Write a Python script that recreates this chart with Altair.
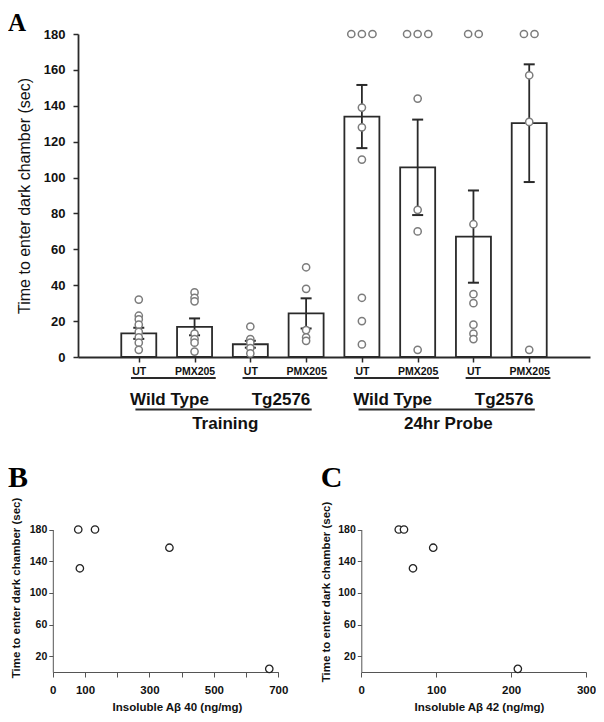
import json
import altair as alt
import pandas as pd

# ---------------- Panel A data ----------------
genotypes = ["Wild Type", "Wild Type", "Tg2576", "Tg2576",
             "Wild Type", "Wild Type", "Tg2576", "Tg2576"]
treatments = ["UT", "PMX205", "UT", "PMX205", "UT", "PMX205", "UT", "PMX205"]
phases = ["Training"] * 4 + ["24hr Probe"] * 4
bar_means = [13.2, 16.8, 7.1, 24.3, 134.0, 105.7, 67.1, 130.3]
bar_sems = [3.1, 4.7, 1.9, 8.4, 17.6, 26.6, 25.7, 32.8]
animal_values = [
    [32, 23, 21, 18, 14, 11, 8, 4],
    [36, 33, 31, 13, 10, 8, 3],
    [17, 10, 8, 5, 2],
    [50, 38, 15, 11, 9],
    [180, 180, 180, 139, 128, 110, 33, 20, 7],
    [180, 180, 180, 144, 82, 70, 4],
    [180, 180, 74, 35, 30, 18, 13, 10],
    [180, 180, 157, 131, 4],
]
CUTOFF = 180

# ---------------- Panels B / C data ----------------
bc_times = [180, 180, 131, 157, 4]
insoluble_ab40 = [79, 131, 84, 362, 672]
insoluble_ab42 = [50, 57, 69, 96, 209]

# ---------------- build tables ----------------
positions = list(range(1, len(bar_means) + 1))
bars_df = pd.DataFrame({
    "pos": positions,
    "mean": bar_means,
    "lo": [m - s for m, s in zip(bar_means, bar_sems)],
    "hi": [m + s for m, s in zip(bar_means, bar_sems)],
})
caps_df = pd.DataFrame({
    "pos": positions * 2,
    "v": list(bars_df["lo"]) + list(bars_df["hi"]),
})

dot_rows = []
for p, vals in zip(positions, animal_values):
    k = sum(1 for v in vals if v == CUTOFF)
    j = 0
    for v in vals:
        off = 0.0
        if v == CUTOFF and k > 1:
            off = (j - (k - 1) / 2) * 0.19
            j += 1
        dot_rows.append({"x": p + off, "v": v})
dots_df = pd.DataFrame(dot_rows)

pair_rows, geno_rows = [], []
for i in range(0, len(positions), 2):
    p1, p2 = positions[i], positions[i + 1]
    pair_rows.append({"x": p1 - 0.14, "x2": p2 + 0.38})
    geno_rows.append({"x": (p1 + p2) / 2 + 0.05, "label": genotypes[i]})
pair_df = pd.DataFrame(pair_rows)
geno_df = pd.DataFrame(geno_rows)

phase_rows, phase_rule_rows = [], []
for ph in dict.fromkeys(phases):
    ps = [p for p, q in zip(positions, phases) if q == ph]
    phase_rows.append({"x": sum(ps) / len(ps) + 0.05, "label": ph})
    phase_rule_rows.append({"x": ps[0] - 0.06, "x2": ps[-1] + 0.1})
phase_df = pd.DataFrame(phase_rows)
phase_rule_df = pd.DataFrame(phase_rule_rows)

b_df = pd.DataFrame({"ab": insoluble_ab40, "t": bc_times})
c_df = pd.DataFrame({"ab": insoluble_ab42, "t": bc_times})

# ---------------- styling ----------------
FONT = "Liberation Sans"
DARK = "#2a2a2a"
W, H = 588, 706

xsA = alt.Scale(domain=[0, 9], range=[70, 582], nice=False, zero=False)
ysA = alt.Scale(domain=[0, 180], range=[349, 26], nice=False)

axXA = alt.Axis(orient="bottom", offset=-(H - 349), values=positions,
                labelExpr=json.dumps(treatments) + "[datum.value - 1]",
                title=None, grid=False, labelFont=FONT, labelFontSize=10.5,
                labelFontWeight="bold", labelColor="#111", tickSize=5,
                labelPadding=4, tickColor=DARK, domainColor=DARK,
                domainWidth=1.8, tickWidth=1.5, labelFlush=False,
                labelOverlap=False)
axYA = alt.Axis(orient="left", offset=-70, values=list(range(0, 181, 20)),
                title="Time to enter dark chamber (sec)", grid=False,
                labelFont=FONT, labelFontSize=13, labelFontWeight="bold",
                labelColor="#111", tickSize=5, labelPadding=8,
                tickColor=DARK, domainColor=DARK, domainWidth=1.8,
                tickWidth=1.5, titleFont=FONT, titleFontSize=16,
                titleFontWeight="normal", titleColor="#111",
                titleX=-54, titleY=187.5, titleAngle=-90,
                titleBaseline="middle", titleAlign="center")


def xA(field):
    return alt.X(field, type="quantitative", scale=xsA, axis=axXA)


def yA(field):
    return alt.Y(field, type="quantitative", scale=ysA, axis=axYA)


bars = alt.Chart(bars_df).mark_bar(
    orient="vertical", size=35, fill="white", stroke=DARK, strokeWidth=1.8
).encode(x=xA("pos"), y=yA("mean"))

err = alt.Chart(bars_df).mark_rule(color=DARK, strokeWidth=1.8).encode(
    x=xA("pos"), y=yA("lo"), y2="hi")

caps = alt.Chart(caps_df).mark_tick(
    orient="horizontal", size=11, thickness=2, color=DARK, opacity=1
).encode(x=xA("pos"), y=yA("v"))

dots = alt.Chart(dots_df).mark_point(
    shape="circle", filled=True, fill="white", stroke="#7c7c7c",
    strokeWidth=1.5, size=52, opacity=1
).encode(x=xA("x"), y=yA("v"))

pair_rules = alt.Chart(pair_df).mark_rule(color=DARK, strokeWidth=2).encode(
    x=xA("x"), x2="x2", y=alt.value(370))

geno_text = alt.Chart(geno_df).mark_text(
    font=FONT, fontSize=17, fontWeight="bold", color="#111",
    baseline="alphabetic", align="center"
).encode(x=xA("x"), y=alt.value(397), text="label:N")

phase_rules = alt.Chart(phase_rule_df).mark_rule(color=DARK, strokeWidth=2).encode(
    x=xA("x"), x2="x2", y=alt.value(401.5))

phase_text = alt.Chart(phase_df).mark_text(
    font=FONT, fontSize=17, fontWeight="bold", color="#111",
    baseline="alphabetic", align="center"
).encode(x=xA("x"), y=alt.value(420.5), text="label:N")

panelA = alt.layer(bars, err, caps, dots, pair_rules, geno_text,
                   phase_rules, phase_text)


# ---------------- Panels B and C ----------------
def scatter(df, xdomain, xrange, xvalues, xlabel_expr, ytitle_x, ytitle_y,
            xtitle, xtitle_x):
    yr = [664, 521.5]
    ax_x = alt.Axis(orient="bottom", offset=-(H - yr[0]), values=xvalues,
                    labelExpr=xlabel_expr, title=xtitle, grid=False,
                    labelFont=FONT, labelFontSize=11.5, labelFontWeight="bold",
                    labelColor="#111", tickSize=5, labelPadding=7,
                    tickColor="#555", domainColor="#555", domainWidth=1,
                    tickWidth=1, labelFlush=False, labelOverlap=False,
                    titleFont=FONT, titleFontSize=11.5, titleFontWeight="bold",
                    titleColor="#111", titleX=xtitle_x, titleY=35,
                    titleBaseline="middle", titleAlign="center")
    ax_y = alt.Axis(orient="left", offset=-xrange[0],
                    values=[20, 60, 100, 140, 180],
                    title="Time to enter dark chamber (sec)", grid=False,
                    labelFont=FONT, labelFontSize=10.5, labelFontWeight="bold",
                    labelColor="#111", tickSize=4, labelPadding=2,
                    tickColor="#555", domainColor="#555", domainWidth=1,
                    tickWidth=1, titleFont=FONT, titleFontSize=11.5,
                    titleFontWeight="bold", titleColor="#111",
                    titleX=ytitle_x, titleY=ytitle_y, titleAngle=-90,
                    titleBaseline="middle", titleAlign="center")
    return alt.Chart(df).mark_point(
        shape="circle", filled=True, fill="white", stroke="#222",
        strokeWidth=1.3, size=55, opacity=1
    ).encode(
        x=alt.X("ab:Q", scale=alt.Scale(domain=xdomain, range=xrange,
                                         nice=False, zero=False), axis=ax_x),
        y=alt.Y("t:Q", scale=alt.Scale(domain=[0, 180], range=yr, nice=False),
                axis=ax_y),
    )


panelB = scatter(b_df, [0, 700], [44.8, 270.3], list(range(0, 701, 100)),
                 "(datum.value == 200 || datum.value == 400 || datum.value == 600) ? '' : datum.label",
                 16.7 - 8 - 44.8, 579.5, "Insoluble Aβ 40 (ng/mg)", 169)
panelC = scatter(c_df, [0, 300], [353.3, 578], [0, 100, 200, 300],
                 "datum.label", 326.7 - 8 - 353.3, 583.5,
                 "Insoluble Aβ 42 (ng/mg)", 471)


def letter(ch, x, y, size):
    return alt.Chart(pd.DataFrame({"t": [ch]})).mark_text(
        font="Liberation Serif", fontWeight="bold", fontSize=size,
        color="#000", align="left", baseline="alphabetic"
    ).encode(text="t:N", x=alt.value(x), y=alt.value(y))


chart = alt.layer(
    panelA, panelB, panelC,
    letter("A", 0, 23, 25), letter("B", 0, 478.7, 30),
    letter("C", 312.7, 478.7, 30),
).resolve_scale(x="independent", y="independent").properties(
    width=W, height=H, autosize=alt.AutoSizeParams(type="none"), padding=0
).configure_view(stroke=None)

chart.save("out.html", embed_options={"renderer": "svg", "actions": False})
